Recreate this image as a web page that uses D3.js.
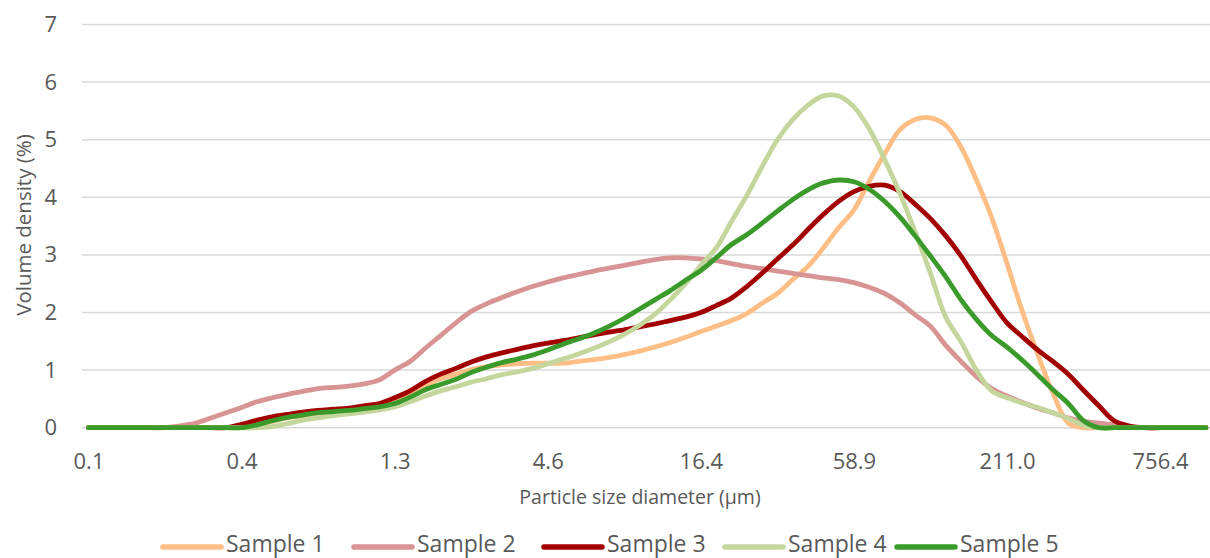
<!DOCTYPE html>
<html><head><meta charset="utf-8">
<script src="https://cdn.jsdelivr.net/npm/d3@7"></script>
<style>html,body{margin:0;padding:0;background:#fff;} svg{display:block;}</style>
</head><body><svg id="chart" width="1210" height="558"></svg>
<script>
// Particle size bins (µm)
const sizes = [
0.0995,0.1131,0.1285,0.1460,0.1659,0.1885,0.2141,0.2432,0.2763,0.3139,
0.3566,0.4052,0.4603,0.5230,0.5941,0.6750,0.7668,0.8719,0.9905,1.125,
1.279,1.453,1.651,1.875,2.131,2.421,2.750,3.124,3.549,4.033,
4.582,5.206,5.915,6.720,7.635,8.675,9.858,11.20,12.72,14.46,
16.43,18.66,21.21,24.09,27.37,31.11,35.34,40.15,45.61,51.82,
58.88,66.90,76.01,86.36,98.12,111.5,126.6,143.9,163.5,185.8,
211.0,239.8,272.4,309.6,351.7,399.6,454.0,515.8,586.1,665.9,
756.4,859.6,976.5,1110];
const tickLabels = ["0.1","0.4","1.3","4.6","16.4","58.9","211.0","756.4"];
const yTicks = [0,1,2,3,4,5,6,7];

const sample1 = [
0,0,0,0,0,0,0,0,0,0,0,
0.04,0.11,0.17,0.21,0.25,0.28,0.30,0.33,0.38,0.46,
0.60,0.74,0.85,0.93,1.01,1.06,1.09,1.11,1.12,1.12,
1.12,1.15,1.18,1.22,1.27,1.33,1.40,1.48,1.57,1.67,
1.76,1.86,1.98,2.16,2.33,2.57,2.80,3.12,3.47,3.78,
4.28,4.75,5.17,5.35,5.38,5.25,4.87,4.30,3.65,2.85,
2.02,1.28,0.60,0.08,0,0,0,0,0,0,
0,0,0];
const sample2 = [
0,0,0,0,0,
0.0,0.03,0.08,0.17,0.26,0.35,
0.45,0.52,0.58,0.63,0.68,0.70,0.72,0.76,0.83,1.0,
1.15,1.38,1.60,1.82,2.02,2.15,2.26,2.36,2.45,2.53,
2.60,2.66,2.72,2.77,2.82,2.87,2.92,2.95,2.95,2.93,
2.90,2.85,2.80,2.76,2.72,2.68,2.64,2.60,2.57,2.52,
2.44,2.33,2.17,1.96,1.76,1.43,1.15,0.89,0.68,0.55,
0.44,0.34,0.26,0.17,0.11,0.08,0.05,0.02,0,0,
0,0,0];
const sample3 = [
0,0,0,0,0,0,0,0,0,0,
0.06,0.13,0.19,0.23,0.27,0.30,0.32,0.34,0.38,0.42,0.52,
0.64,0.80,0.93,1.03,1.14,1.23,1.30,1.36,1.42,1.47,
1.51,1.56,1.61,1.66,1.70,1.75,1.80,1.86,1.92,2.00,
2.12,2.25,2.45,2.68,2.93,3.17,3.44,3.70,3.93,4.10,
4.19,4.21,4.10,3.88,3.63,3.33,2.98,2.57,2.18,1.82,
1.58,1.35,1.15,0.93,0.65,0.38,0.12,0.03,0,0,
0,0,0];
const sample4 = [
0,0,0,0,0,0,0,0,0,0,0,0,
0.02,0.07,0.13,0.17,0.21,0.24,0.27,0.31,0.36,
0.45,0.55,0.64,0.71,0.79,0.85,0.92,0.97,1.03,1.11,
1.19,1.28,1.38,1.49,1.62,1.78,1.97,2.22,2.50,2.82,
3.12,3.58,4.03,4.53,5.00,5.35,5.60,5.76,5.76,5.57,
5.19,4.66,4.07,3.40,2.68,1.92,1.49,1.00,0.64,0.52,
0.43,0.35,0.26,0.16,0.04,0,0,0,0,0,
0,0,0];
const sample5 = [
0,0,0,0,0,0,0,0,0,0,0,
0.05,0.12,0.18,0.22,0.26,0.28,0.30,0.33,0.36,0.42,
0.53,0.66,0.75,0.84,0.96,1.05,1.13,1.19,1.26,1.35,
1.45,1.54,1.64,1.76,1.90,2.06,2.22,2.38,2.56,2.73,
2.95,3.18,3.35,3.55,3.76,3.96,4.13,4.25,4.30,4.27,
4.14,3.93,3.66,3.33,2.98,2.62,2.22,1.88,1.60,1.40,
1.17,0.92,0.66,0.42,0.12,0,0,0,0,0,
0,0,0];

const seriesNames = ["Sample 1","Sample 2","Sample 3","Sample 4","Sample 5"];
const seriesValues = [sample1,sample2,sample3,sample4,sample5];
const seriesColors = ["#FFBE86","#D79492","#A20000","#C4D69C","#3A9A2A"];

const FONT = "'Open Sans', sans-serif";
const TXT = "#595959";
const svg = d3.select("#chart").style("font-family", FONT);

const x = d3.scalePoint().domain(sizes).range([88.5, 1206]);
const y = d3.scaleLinear().domain([0, 7]).range([427.7, 24.5]);

// gridlines
svg.append("g").selectAll("line").data(yTicks).join("line")
  .attr("x1", 82).attr("x2", 1210)
  .attr("y1", d => y(d)).attr("y2", d => y(d))
  .attr("stroke", "#D9D9D9").attr("stroke-width", 1.5);

// y axis
const yAxis = svg.append("g").attr("transform", "translate(82,0)")
  .call(d3.axisLeft(y).tickValues(yTicks).tickSize(0).tickPadding(25).tickFormat(d3.format("d")));
yAxis.select(".domain").remove();
yAxis.selectAll("text").attr("font-size", 22).attr("fill", TXT).attr("font-family", FONT);

// x axis
const xTickVals = sizes.filter((d, i) => i % 10 === 0 && i <= 70);
const xAxis = svg.append("g").attr("transform", `translate(0,${y(0)})`)
  .call(d3.axisBottom(x).tickValues(xTickVals).tickSize(0).tickFormat((d, i) => tickLabels[i]));
xAxis.select(".domain").remove();
xAxis.selectAll("text").attr("y", 41).attr("dy", 0)
  .attr("font-size", 22).attr("fill", TXT).attr("font-family", FONT);

// axis titles
svg.append("text").attr("transform", "translate(23,225) rotate(-90)")
  .attr("text-anchor", "middle").attr("dominant-baseline", "central")
  .attr("font-size", 20.5).attr("fill", TXT).text("Volume density (%)");
svg.append("text").attr("x", 640).attr("y", 504)
  .attr("text-anchor", "middle").attr("font-size", 19.5).attr("fill", TXT)
  .text("Particle size diameter (µm)");

// lines
const line = d3.line().x((d, i) => x(sizes[i])).y(d => y(d)).curve(d3.curveCatmullRom.alpha(0.5));
svg.append("g").selectAll("path").data(seriesValues).join("path")
  .attr("d", d => line(d))
  .attr("fill", "none")
  .attr("stroke", (d, i) => seriesColors[i])
  .attr("stroke-width", 4.8)
  .attr("stroke-linejoin", "round").attr("stroke-linecap", "round");

// legend
const legendX = [163, 354, 544, 725, 897];
const lg = svg.append("g").selectAll("g").data(seriesNames).join("g")
  .attr("transform", (d, i) => `translate(${legendX[i]},547)`);
lg.append("line").attr("x1", 0).attr("x2", 58).attr("y1", 0).attr("y2", 0)
  .attr("stroke", (d, i) => seriesColors[i]).attr("stroke-width", 5.5).attr("stroke-linecap", "round");
lg.append("text").attr("x", 63).attr("y", 5).attr("font-size", 23).attr("fill", TXT).text(d => d);
</script>
</body></html>
